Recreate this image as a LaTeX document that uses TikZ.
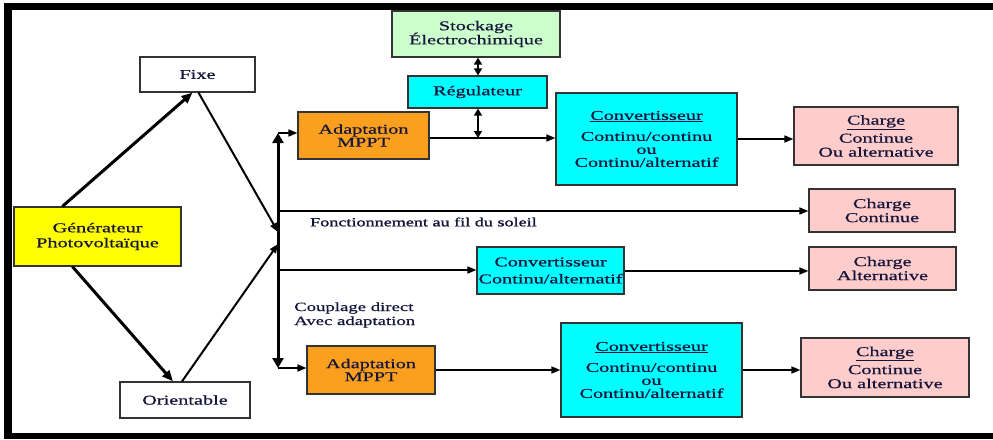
\documentclass[tikz,border=0pt]{standalone}
\usepackage{fontspec}
\setmainfont{Liberation Serif}[FakeStretch=1.5,FakeBold=0.6]
\newfontfamily\heavyserif{Liberation Serif}[FakeStretch=1.45,FakeBold=1.4]
\usetikzlibrary{arrows.meta}

\definecolor{txt}{HTML}{15153A}
\definecolor{edge}{HTML}{333333}
\definecolor{vert}{HTML}{CCFFCC}
\definecolor{cyanbox}{HTML}{00FFFF}
\definecolor{orangebox}{HTML}{FB9F1F}
\definecolor{rose}{HTML}{FFCCCC}
\definecolor{jaune}{HTML}{FFFF00}

\tikzset{
  box/.style={draw=edge, line width=1.2pt, inner sep=0pt, align=center,
              text=txt, font=\fontsize{13.5}{15}\selectfont},
  link/.style={draw=black, line width=1.6pt, -{Triangle[length=9pt,width=7pt]}},
  boldlink/.style={draw=black, line width=3pt, -{Triangle[length=11pt,width=9pt]}},
  twoway/.style={draw=black, line width=1.5pt,
                 {Triangle[length=7pt,width=8pt]}-{Triangle[length=7pt,width=8pt]}},
  lbl/.style={text=txt, inner sep=0pt, align=left, font=\fontsize{12.5}{14}\selectfont}
}

\begin{document}
\begin{tikzpicture}[x=1pt,y=-1pt]
  \useasboundingbox (0,0) rectangle (993,439);
  % frame
  \fill[white] (0,0) rectangle (993,439);
  \fill[black] (4,3) rectangle (993,10);
  \fill[black] (4,3) rectangle (12,439);
  \fill[black] (4,433) rectangle (993,439);

  % blocks
  \node[box, fill=vert, minimum width=168, minimum height=46] (stock) at (476,34)
    {Stockage\\[-1pt]Électrochimique};
  \node[box, fill=cyanbox, minimum width=139, minimum height=32] (reg) at (477.5,92)
    {Régulateur};
  \node[box, fill=white, minimum width=115, minimum height=35] (fixe) at (197.5,74.5)
    {Fixe};
  \node[box, fill=orangebox, minimum width=131, minimum height=47] (adapt1) at (363.5,135.5)
    {Adaptation\\[-2pt]MPPT};
  \node[box, fill=jaune, minimum width=167, minimum height=59] (gen) at (97.5,236.5)
    {Générateur\\Photovoltaïque};
  \node[box, fill=white, minimum width=130, minimum height=36] (orient) at (185,400)
    {Orientable};
  \node[box, fill=cyanbox, minimum width=181, minimum height=92] (conv1) at (646.5,139)
    {\underline{Convertisseur}\\[6pt]Continu/continu\\[-2pt]ou\\[-2pt]Continu/alternatif};
  \node[box, fill=rose, minimum width=164, minimum height=58] (charge1) at (876,136)
    {\underline{Charge}\\[3pt]Continue\\[-1pt]Ou alternative};
  \node[box, fill=rose, minimum width=146, minimum height=43] (charge2) at (882,210.5)
    {Charge\\[-1pt]Continue};
  \node[box, fill=cyanbox, minimum width=147, minimum height=47] (conv2) at (550.5,270.5)
    {Convertisseur\\[2pt]Continu/alternatif};
  \node[box, fill=rose, minimum width=147, minimum height=43] (charge3) at (882.5,268.5)
    {Charge\\[-1pt]Alternative};
  \node[box, fill=orangebox, minimum width=128, minimum height=48] (adapt2) at (371,370)
    {Adaptation\\[-2pt]MPPT};
  \node[box, fill=cyanbox, minimum width=181, minimum height=94] (conv3) at (651.5,370)
    {\underline{Convertisseur}\\[6pt]Continu/continu\\[-2pt]ou\\[-2pt]Continu/alternatif};
  \node[box, fill=rose, minimum width=168, minimum height=59] (charge4) at (885,367.5)
    {\underline{Charge}\\[3pt]Continue\\[-1pt]Ou alternative};

  % labels
  \node[lbl, anchor=west, font=\heavyserif\fontsize{12.5}{14}\selectfont] (fil) at (310,222)
    {Fonctionnement au fil du soleil};
  \node[lbl, anchor=west] (coup) at (294,315) {Couplage direct\\Avec adaptation};

  % distribution bus
  \coordinate (bustop) at (278,133);
  \coordinate (busbot) at (278,368);
  \coordinate (inF) at (278,232);
  \coordinate (inO) at (278,244);
  \coordinate (tapA) at (278,211);
  \coordinate (tapB) at (278,270);
  \coordinate (regtap) at (478,138);

  \draw[line width=3pt, {Triangle[length=10pt,width=11pt]}-{Triangle[length=10pt,width=11pt]}]
    (bustop) -- (busbot);

  % panel mounting
  \draw[boldlink] ([xshift=49pt]gen.north west) -- ([xshift=-5pt]fixe.south);
  \draw[boldlink] ([xshift=59pt]gen.south west) -- ([xshift=-12pt]orient.north);
  \draw[link, line width=2pt] ([xshift=1pt]fixe.south) -- (inF);
  \draw[link, line width=2pt] ([xshift=-3pt]orient.north) -- (inO);

  % outputs from the bus
  \draw[link] (bustop) -- (bustop -| adapt1.west);
  \draw[link] (tapA) -- (tapA -| charge2.west);
  \draw[link] (tapB) -- (tapB -| conv2.west);
  \draw[link] (busbot) -- (busbot -| adapt2.west);

  % top chain
  \draw[link] (adapt1.east |- regtap) -- (regtap -| conv1.west);
  \draw[link] (conv1.east) -- (conv1.east -| charge1.west);
  \draw[twoway] (stock.south -| regtap) -- (reg.north -| regtap);
  \draw[twoway] (reg.south -| regtap) -- (regtap);

  % middle and bottom chains
  \draw[link] ([yshift=-0.5pt]conv2.east) -- ([yshift=-0.5pt]conv2.east -| charge3.west);
  \draw[link] (adapt2.east) -- (conv3.west);
  \draw[link] (conv3.east) -- (conv3.east -| charge4.west);
\end{tikzpicture}
\end{document}
